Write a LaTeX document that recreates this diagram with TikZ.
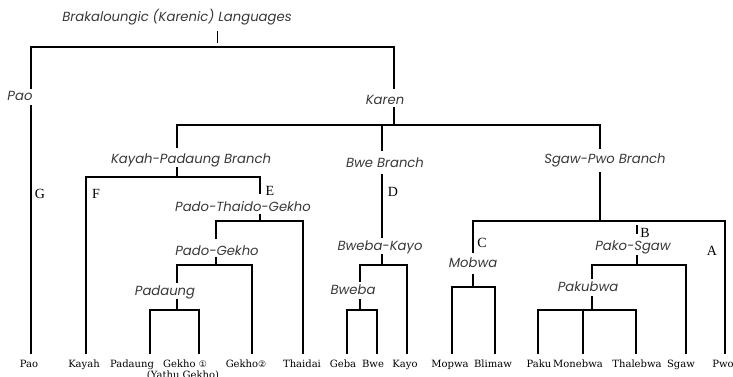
\documentclass[tikz,border=0pt]{standalone}
\usepackage{fontspec}
\newfontfamily\gothic{Poppins}
\newfontfamily\leafserif{DejaVu Serif}
\newfontfamily\dvs{DejaVu Sans}
\newfontfamily\letserif{Liberation Serif}
\begin{document}
\begin{tikzpicture}[x=1pt,y=-1pt,
  br/.style={line width=2.7pt, line cap=rect},
  lab/.style={font=\gothic\itshape\fontsize{13.2}{14}\selectfont, text=black!78, inner sep=0pt},
  leaf/.style={font=\leafserif\fontsize{10}{11}\selectfont, inner sep=0pt, anchor=base},
  letr/.style={font=\letserif\fontsize{14}{15}\selectfont, inner sep=0pt}]
\useasboundingbox (0,0) rectangle (733,376);
% labels
\node[lab] (title) at (177,17) {Brakaloungic (Karenic) Languages};
\node[lab] (pao) at (20,96) {Pao};
\node[lab] (karen) at (385,100) {Karen};
\node[lab] (kp) at (191,160) {Kayah-Padaung Branch};
\node[lab] (ptg) at (243,207) {Pado-Thaido-Gekho};
\node[lab] (pg) at (217,251) {Pado-Gekho};
\node[lab] (pad) at (165,292) {Padaung};
\node[lab] (bwe) at (385,163) {Bwe Branch};
\node[lab] (bk) at (380,247) {Bweba-Kayo};
\node[lab] (bweba) at (353,290) {Bweba};
\node[lab] (sp) at (605,160) {Sgaw-Pwo Branch};
\node[lab] (mob) at (473,263) {Mobwa};
\node[lab] (ps) at (633,247) {Pako-Sgaw};
\node[lab] (pak) at (588,287) {Pakubwa};
% letters
\node[letr] (G) at (40,194) {G};
\node[letr] (F) at (96,194) {F};
\node[letr] (E) at (270,191) {E};
\node[letr] (D) at (393,192) {D};
\node[letr] (C) at (482,243) {C};
\node[letr] (B) at (645,233) {B};
\node[letr] (A) at (712,251) {A};
% leaves
\node[leaf] (lpao) at (29,367) {Pao};
\node[leaf] (lkayah) at (84,367) {Kayah};
\node[leaf] (lpadaung) at (132,367) {Padaung};
\node[leaf] (lgek1) at (185,367) {Gekho {\dvs\fontsize{9}{10}\selectfont ①}};
\node[leaf, anchor=north] (lyathu) at (183,371) {(Yathu Gekho)};
\node[leaf] (lgek2) at (246,367) {Gekho{\dvs\fontsize{9}{10}\selectfont ②}};
\node[leaf] (lthai) at (302,367) {Thaidai};
\node[leaf] (lgeba) at (343,367) {Geba};
\node[leaf] (lbwe) at (373,367) {Bwe};
\node[leaf] (lkayo) at (405,367) {Kayo};
\node[leaf] (lmopwa) at (450,367) {Mopwa};
\node[leaf] (lblim) at (493,367) {Blimaw};
\node[leaf] (lpaku) at (539,367) {Paku};
\node[leaf] (lmone) at (578,367) {Monebwa};
\node[leaf] (lthale) at (637,367) {Thalebwa};
\node[leaf] (lsgaw) at (681,367) {Sgaw};
\node[leaf] (lpwo) at (723,367) {Pwo};
% title tick
\draw[line width=0.9pt] (217,31) -- (217,43);
% level 0
\draw[br] (31,88) |- (394,47) -- (394,88);
\draw[br] (31,106) -- (31,353);
\draw[br] (394,108) -- (394,125);
\draw[br] (177,147) |- (600,125) -- (600,148);
\draw[br] (382,125) -- (382,150);
% Kayah-Padaung
\draw[br] (177,168) -- (177,177);
\draw[br] (86,353) |- (260,177) -- (260,193);
\draw[br] (260,215) -- (260,221);
\draw[br] (216,238) |- (303,221) -- (303,353);
\draw[br] (216,258) -- (216,265);
\draw[br] (177,282) |- (252,265) -- (252,353);
\draw[br] (177,300) -- (177,310);
\draw[br] (150,353) |- (199,310) -- (199,353);
% Bwe
\draw[br] (382,175) -- (382,237);
\draw[br] (382,255) -- (382,265);
\draw[br] (360,281) |- (407,265) -- (407,353);
\draw[br] (360,300) -- (360,310);
\draw[br] (347,353) |- (377,310) -- (377,353);
% Sgaw-Pwo
\draw[br] (600,173) -- (600,221);
\draw[br] (473,252) |- (725,221) -- (725,353);
\draw[br] (473,275) -- (473,287);
\draw[br] (452,353) |- (495,287) -- (495,353);
\draw[br] (637,226) -- (637,233);
\draw[br] (637,256) -- (637,265);
\draw[br] (592,278) |- (686,265) -- (686,353);
\draw[br] (592,297) -- (592,310);
\draw[br] (538,353) |- (636,310) -- (636,353);
\draw[br] (583,310) -- (583,353);
\end{tikzpicture}
\end{document}
